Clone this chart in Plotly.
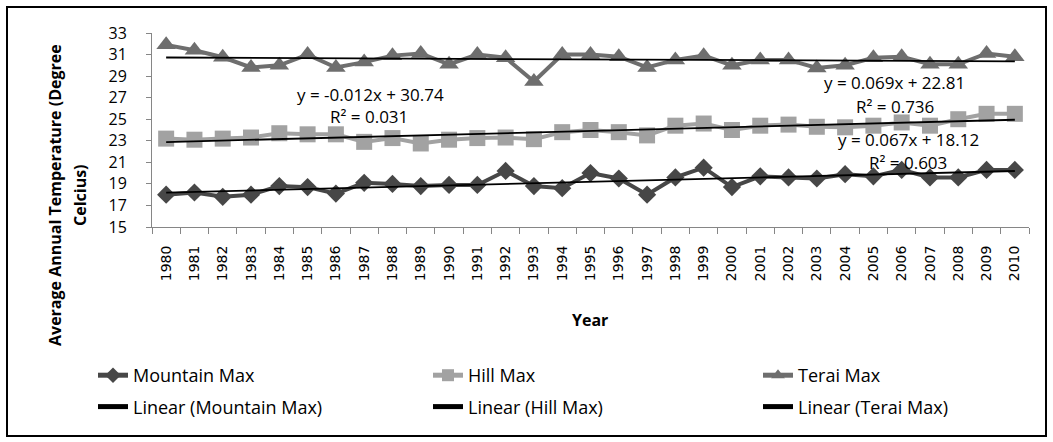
import plotly.graph_objects as go

# ---------------- data ----------------
years = ["1980", "1981", "1982", "1983", "1984", "1985", "1986", "1987", "1988", "1989",
         "1990", "1991", "1992", "1993", "1994", "1995", "1996", "1997", "1998", "1999",
         "2000", "2001", "2002", "2003", "2004", "2005", "2006", "2007", "2008", "2009", "2010"]

mountain_max = [18.0, 18.2, 17.8, 18.0, 18.8, 18.7, 18.1, 19.1, 19.0, 18.8,
                18.9, 18.9, 20.2, 18.8, 18.6, 20.0, 19.5, 18.0, 19.6, 20.5,
                18.7, 19.7, 19.6, 19.5, 19.9, 19.7, 20.3, 19.6, 19.6, 20.3, 20.3]

hill_max = [23.2, 23.1, 23.2, 23.3, 23.7, 23.6, 23.6, 22.9, 23.25, 22.75,
            23.1, 23.25, 23.3, 23.15, 23.8, 24.0, 23.8, 23.5, 24.4, 24.6,
            24.0, 24.4, 24.5, 24.3, 24.25, 24.4, 24.7, 24.4, 25.0, 25.5, 25.5]

terai_max = [31.9, 31.4, 30.75, 29.8, 30.0, 31.0, 29.8, 30.3, 30.9, 31.1,
             30.1, 31.0, 30.7, 28.5, 31.0, 31.0, 30.8, 29.8, 30.5, 30.9,
             30.0, 30.5, 30.5, 29.75, 30.0, 30.7, 30.8, 30.1, 30.1, 31.1, 30.8]

series_names = ["Mountain Max", "Hill Max", "Terai Max"]
trend_slopes = [0.067, 0.069, -0.012]
trend_intercepts = [18.12, 22.81, 30.74]
trend_r2 = ["0.603", "0.736", "0.031"]
y_ticks = [15, 17, 19, 21, 23, 25, 27, 29, 31, 33]

# ---------------- layout helpers ----------------
W, H = 1053, 442
ML, MR, MT, MB = 152, 24, 33, 215
PW, PH = W - ML - MR, H - MT - MB


def px_x(x):
    return (x - ML) / PW


def px_y(y):
    return (H - MB - y) / PH


series_values = [mountain_max, hill_max, terai_max]
colors = ["#474747", "#a2a2a2", "#6e6e6e"]
symbols = ["diamond", "square", "triangle-up"]
sizes = [14, 16, 17]
legend_ids = ["legend", "legend2", "legend3"]

fig = go.Figure()

for i, name in enumerate(series_names):
    fig.add_trace(go.Scatter(
        x=years, y=series_values[i], name=name, mode="lines+markers",
        line=dict(color=colors[i], width=4),
        marker=dict(symbol=symbols[i], size=sizes[i], color=colors[i]),
        legend=legend_ids[i], legendgroup=name,
    ))

for i, name in enumerate(series_names):
    xs = list(range(1, len(years) + 1))
    trend = [trend_slopes[i] * k + trend_intercepts[i] for k in xs]
    fig.add_trace(go.Scatter(
        x=years, y=trend, name="Linear (" + name + ")", mode="lines",
        line=dict(color="#000000", width=1.8),
        legend=legend_ids[i], legendgroup="lin" + name,
    ))

# equation annotations
eq_pos = [((908, 139.5), (908, 162)), ((894, 82.5), (895, 106)), ((370, 94), (369, 116))]
for i in range(3):
    b = trend_intercepts[i]
    s = trend_slopes[i]
    eq = "y = %sx + %.2f" % (("%.3f" % s), b)
    (x1, y1), (x2, y2) = eq_pos[i]
    fig.add_annotation(text=eq, x=px_x(x1), y=px_y(y1), xref="paper", yref="paper",
                       showarrow=False, xanchor="center", yanchor="middle",
                       font=dict(family="Open Sans", size=17, color="#000"))
    fig.add_annotation(text="R² = " + trend_r2[i], x=px_x(x2), y=px_y(y2), xref="paper", yref="paper",
                       showarrow=False, xanchor="center", yanchor="middle",
                       font=dict(family="Open Sans", size=17, color="#000"))

# y-axis title (two lines)
fig.add_annotation(text="<b>Average Annual Temperature (Degree</b>", x=px_x(55), y=px_y(195),
                   xref="paper", yref="paper", showarrow=False, textangle=-90,
                   xanchor="center", yanchor="middle",
                   font=dict(family="Open Sans", size=16, color="#000"))
fig.add_annotation(text="<b>Celcius)</b>", x=px_x(80), y=px_y(195),
                   xref="paper", yref="paper", showarrow=False, textangle=-90,
                   xanchor="center", yanchor="middle",
                   font=dict(family="Open Sans", size=16, color="#000"))

# x-axis title
fig.add_annotation(text="<b>Year</b>", x=px_x(590), y=px_y(320),
                   xref="paper", yref="paper", showarrow=False,
                   xanchor="center", yanchor="middle",
                   font=dict(family="Open Sans", size=16, color="#000"))

# outer border
fig.add_shape(type="rect", xref="paper", yref="paper",
              x0=px_x(7), x1=px_x(1046), y0=px_y(436), y1=px_y(7),
              line=dict(color="#000", width=2), fillcolor="rgba(0,0,0,0)", layer="below")

legend_common = dict(orientation="v", xref="paper", yref="paper", xanchor="left", yanchor="top",
                     bgcolor="rgba(0,0,0,0)", borderwidth=0, tracegroupgap=5,
                     itemsizing="constant",
                     font=dict(family="Open Sans", size=18, color="#000"))
legend_x_px = [93, 428, 758]
legend_top_px = 357

fig.update_layout(
    width=W, height=H,
    margin=dict(l=ML, r=MR, t=MT, b=MB, autoexpand=False),
    paper_bgcolor="white", plot_bgcolor="white",
    showlegend=True,
    legend=dict(x=px_x(legend_x_px[0]), y=px_y(legend_top_px), **legend_common),
    legend2=dict(x=px_x(legend_x_px[1]), y=px_y(legend_top_px), **legend_common),
    legend3=dict(x=px_x(legend_x_px[2]), y=px_y(legend_top_px), **legend_common),
    xaxis=dict(type="category", range=[-0.5, len(years) - 0.5], showgrid=False, zeroline=False,
               showline=True, linecolor="#868686", linewidth=1,
               ticks="outside", tickson="boundaries", ticklen=6, tickcolor="#868686",
               tickangle=-90, ticklabelstandoff=12,
               tickfont=dict(family="DejaVu Sans", size=14, color="#000")),
    yaxis=dict(range=[15, 33], tickvals=y_ticks, showgrid=False, zeroline=False,
               showline=True, linecolor="#868686", linewidth=1,
               ticks="outside", ticklen=5, tickcolor="#868686", ticklabelstandoff=16,
               tickfont=dict(family="Open Sans", size=16, color="#000")),
)

fig.write_html("out.html")
